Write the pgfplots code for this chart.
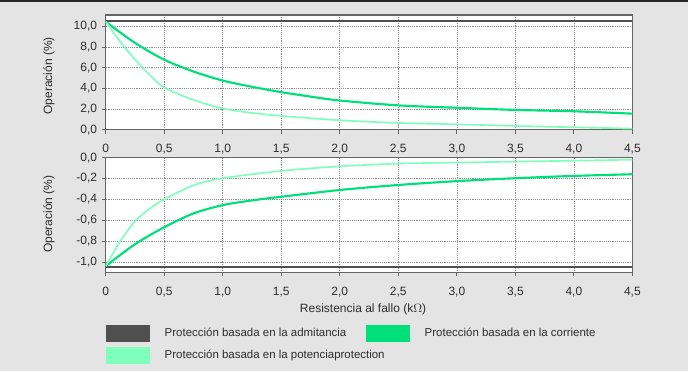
\documentclass[border=0pt]{standalone}
\usepackage{pgfplots}
\pgfplotsset{compat=1.18}
\usepackage{fontspec}
\setmainfont{Liberation Sans}
\definecolor{bg}{RGB}{228,228,228}
\definecolor{adm}{RGB}{80,80,80}
\definecolor{cur}{RGB}{0,224,122}
\definecolor{pot}{RGB}{128,255,188}
\definecolor{frm}{RGB}{100,100,100}
\definecolor{txt}{RGB}{45,45,45}

\pgfplotsset{
  base/.style={
    scale only axis, width=395pt, height=86pt,
    xmin=0, xmax=4.5,
    xtick={0,0.5,1,1.5,2,2.5,3,3.5,4,4.5},
    xticklabels={0,{0,5},{1,0},{1,5},{2,0},{2,5},{3,0},{3,5},{4,0},{4,5}},
    grid=major,
    major grid style={densely dotted, draw=black!45, line width=0.5pt},
    axis line style={draw=frm, line width=0.9pt},
    tick style={draw=frm, line width=0.6pt},
    tick align=outside,
    major tick length=3pt,
    xtick pos=bottom, ytick pos=left,
    axis background/.style={fill=white},
    tick label style={font=\fontsize{9}{10.8}\selectfont, text=txt},
    xticklabel style={yshift=-4.5pt},
    label style={font=\fontsize{9}{10.8}\selectfont, text=txt},
    ylabel={Operación (\%)},
    clip=true,
  }
}

\begin{document}
\begin{tikzpicture}
\fill[bg] (0,0) rectangle (516pt,278.25pt);
\draw[line width=1.2pt, black!85] (0,277.6pt) -- (516pt,277.6pt);

% top axis
\begin{axis}[base,
  at={(79.3pt,181pt)}, anchor=south west,
  ymin=0, ymax=11.1,
  ytick={0,2,4,6,8,10},
  yticklabels={{0,0},{2,0},{4,0},{6,0},{8,0},{10,0}},
  ylabel style={at={([xshift=-42.5pt]axis description cs:0,0.47)}, anchor=center},
]
\addplot[no markers, line width=1.5pt, adm] coordinates {(0,10.5) (4.5,10.5)};
\addplot[no markers, smooth, line width=1.6pt, cur] coordinates {
(0,10.45) (0.25,8.4) (0.5,6.77) (0.75,5.63) (1.0,4.75) (1.25,4.15) (1.5,3.63)
(1.75,3.2) (2.0,2.82) (2.5,2.35) (3.0,2.12) (3.5,1.91) (4.0,1.78) (4.5,1.55)};
\addplot[no markers, smooth, line width=1.25pt, pot] coordinates {
(0,10.45) (0.125,8.5) (0.25,6.8) (0.375,5.3) (0.5,4.08) (0.75,2.88) (1.0,2.05)
(1.25,1.62) (1.5,1.33) (2.0,0.91) (2.5,0.65) (3.0,0.52) (3.5,0.36) (4.0,0.23) (4.5,0.1)};
\end{axis}

% bottom axis
\begin{axis}[base,
  at={(79.3pt,74pt)}, anchor=south west,
  ymin=-1.1, ymax=0,
  ytick={-1,-0.8,-0.6,-0.4,-0.2,0},
  yticklabels={{-1,0},{-0,8},{-0,6},{-0,4},{-0,2},{0,0}},
  ylabel style={at={([xshift=-42.5pt]axis description cs:0,0.507)}, anchor=center},
  xlabel={Resistencia al fallo (k$\Omega$)},
  xlabel style={at={([yshift=-28pt]axis description cs:0.4886,0)}, anchor=center},
  legend columns=2,
  legend cell align=left,
  legend image code/.code={\fill[#1] (0pt,-6.375pt) rectangle (33pt,6.375pt);},
  legend style={at={(axis description cs:0,0)}, anchor=north west, yshift=-39.5pt,
    draw=none, fill=none, inner sep=0pt, outer sep=0pt, row sep=3.75pt,
    font=\fontsize{8.6}{10.3}\selectfont, text=txt,
    nodes={inner sep=0pt},
    /tikz/every odd column/.append style={column sep=11.25pt}},
]
\addplot[no markers, line width=1.5pt, adm, forget plot] coordinates {(0,-1.05) (4.5,-1.05)};
\addplot[no markers, smooth, line width=1.6pt, cur, forget plot] coordinates {
(0,-1.04) (0.25,-0.83) (0.5,-0.667) (0.75,-0.535) (1.0,-0.455) (1.25,-0.41) (1.5,-0.375)
(2.0,-0.31) (2.5,-0.262) (3.0,-0.225) (3.5,-0.197) (4.0,-0.175) (4.5,-0.159)};
\addplot[no markers, smooth, line width=1.25pt, pot, forget plot] coordinates {
(0,-1.04) (0.125,-0.80) (0.25,-0.61) (0.375,-0.49) (0.5,-0.40) (0.75,-0.265) (1.0,-0.197)
(1.5,-0.127) (2.0,-0.083) (2.5,-0.057) (3.0,-0.047) (3.5,-0.038) (4.0,-0.029) (4.5,-0.019)};
\addlegendimage{fill=adm, draw=none}
\addlegendentry{\makebox[150.75pt][l]{Protección basada en la admitancia}}
\addlegendimage{fill=cur, draw=none}
\addlegendentry{\makebox[150.75pt][l]{Protección basada en la corriente}}
\addlegendimage{fill=pot, draw=none}
\addlegendentry{\makebox[150.75pt][l]{Protección basada en la potenciaprotection}}
\end{axis}
\pgfresetboundingbox
\useasboundingbox (0,0) rectangle (516pt,278.25pt);
\end{tikzpicture}
\end{document}
